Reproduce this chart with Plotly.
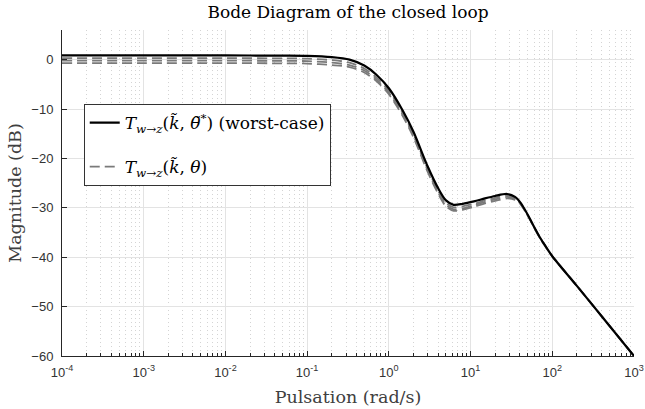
import plotly.graph_objects as go

# Frequencies (rad/s) sampled along the curves
freq = [1e-4, 1e-3, 1e-2, 0.05, 0.1, 0.2, 0.33, 0.5, 0.71, 1.0, 1.5, 2.0, 3.0, 4.0, 5.0,
        6.2, 8.0, 11.0, 15.0, 20.0, 28.0, 35.0, 41.0, 47.0, 54.0, 60.0, 70.0, 80.0, 100.0, 200.0, 400.0, 1000.0]

# Worst-case magnitude (dB)
mag_worst = [0.85, 0.85, 0.85, 0.8, 0.75, 0.5, 0.0, -1.2, -3.1, -5.8, -10.5, -14.6, -21.7, -26.0, -28.5,
             -29.4, -29.2, -28.7, -28.1, -27.6, -27.2, -27.8, -29.0, -30.6, -32.4, -33.9, -35.9, -37.4, -39.8,
             -45.8, -51.9, -60.0]

# Other parameter values (dB)
mag_d1 = [0.3, 0.3, 0.3, 0.25, 0.2, -0.1, -0.6, -1.8, -3.7, -6.3, -11.0, -15.1, -22.2, -26.5, -29.0,
          -29.9, -29.7, -29.2, -28.5, -28.0, -27.5, -28.0, -29.1, -30.7, -32.5, -33.9, -35.9, -37.4, -39.8,
          -45.8, -51.9, -60.0]
mag_d2 = [-0.2, -0.2, -0.2, -0.25, -0.3, -0.6, -1.1, -2.2, -4.1, -6.7, -11.3, -15.4, -22.5, -26.8, -29.4,
          -30.3, -30.1, -29.5, -28.8, -28.3, -27.8, -28.2, -29.2, -30.8, -32.5, -34.0, -36.0, -37.5, -39.8,
          -45.8, -51.9, -60.0]
mag_d3 = [-0.7, -0.7, -0.7, -0.75, -0.8, -1.1, -1.5, -2.6, -4.4, -7.0, -11.6, -15.7, -22.8, -27.1, -29.7,
          -30.6, -30.4, -29.8, -29.1, -28.6, -28.1, -28.4, -29.3, -30.8, -32.6, -34.0, -36.0, -37.5, -39.8,
          -45.8, -51.9, -60.0]

x_tickvals = [1e-4, 1e-3, 1e-2, 1e-1, 1e0, 1e1, 1e2, 1e3]
x_ticktext = ["10<sup>-4</sup>", "10<sup>-3</sup>", "10<sup>-2</sup>", "10<sup>-1</sup>",
              "10<sup>0</sup>", "10<sup>1</sup>", "10<sup>2</sup>", "10<sup>3</sup>"]
y_tickvals = [0, -10, -20, -30, -40, -50, -60]

serif = "DejaVu Serif, Liberation Serif, serif"
sans = "Liberation Sans, Arial, sans-serif"

fig = go.Figure()

dashed = [mag_d1, mag_d2, mag_d3]
for i, m in enumerate(dashed):
    fig.add_trace(go.Scatter(
        x=freq, y=m, mode="lines",
        line=dict(color="#7a7a7a", width=1.8, dash="10px,5px", shape="spline", smoothing=0.8),
        name="<i>T</i><sub><i>w</i>→<i>z</i></sub>(<i>k̃</i>, <i>θ</i>)",
        legendgroup="d", showlegend=(i == 0), legendrank=2))

fig.add_trace(go.Scatter(
    x=freq, y=mag_worst, mode="lines",
    line=dict(color="black", width=2.2, shape="spline", smoothing=0.8),
    name="<i>T</i><sub><i>w</i>→<i>z</i></sub>(<i>k̃</i>, <i>θ̃</i><sup>*</sup>) (worst-case)", legendrank=1))

fig.update_layout(
    width=645, height=409,
    margin=dict(l=62, r=11, t=30, b=53),
    paper_bgcolor="white", plot_bgcolor="white",
    title=dict(text="Bode Diagram of the closed loop", xref="paper", x=0.5, xanchor="center",
               y=0.985, yanchor="top", font=dict(family=serif, size=17, color="black")),
    legend=dict(x=0.038, y=0.773, xanchor="left", yanchor="top", bgcolor="white",
                bordercolor="#333333", borderwidth=1, font=dict(family=serif, size=17, color="black"),
                tracegroupgap=19, itemwidth=30),
    showlegend=True,
    hovermode=False,
)

fig.update_xaxes(
    type="log", range=[-4, 3], tickvals=x_tickvals, ticktext=x_ticktext, automargin=False,
    showline=True, linecolor="#262626", linewidth=1, mirror=False,
    ticks="inside", ticklen=5, tickcolor="#262626", ticklabelstandoff=4,
    showgrid=True, gridcolor="#e3e3e3", gridwidth=1, zeroline=False,
    minor=dict(dtick="D1", ticks="inside", ticklen=3, tickcolor="#262626",
               showgrid=True, gridcolor="#d4d4d4", griddash="1px,3px", gridwidth=1),
    tickfont=dict(family=sans, size=13, color="#333333"),
    title=dict(text="Pulsation (rad/s)", font=dict(family=serif, size=17.5, color="#404040"), standoff=12),
)
fig.update_yaxes(
    range=[-60, 6], tickvals=y_tickvals, automargin=False,
    showline=True, linecolor="#262626", linewidth=1, mirror=False,
    ticks="inside", ticklen=5, tickcolor="#262626", ticklabelstandoff=5,
    showgrid=True, gridcolor="#e3e3e3", gridwidth=1, zeroline=False,
    tickfont=dict(family=sans, size=13, color="#333333"),
    title=dict(text="Magnitude (dB)", font=dict(family=serif, size=17.5, color="#404040"), standoff=5),
)

fig.write_html("out.html", config={"displayModeBar": False},
               post_script="document.body.style.margin='0';")
